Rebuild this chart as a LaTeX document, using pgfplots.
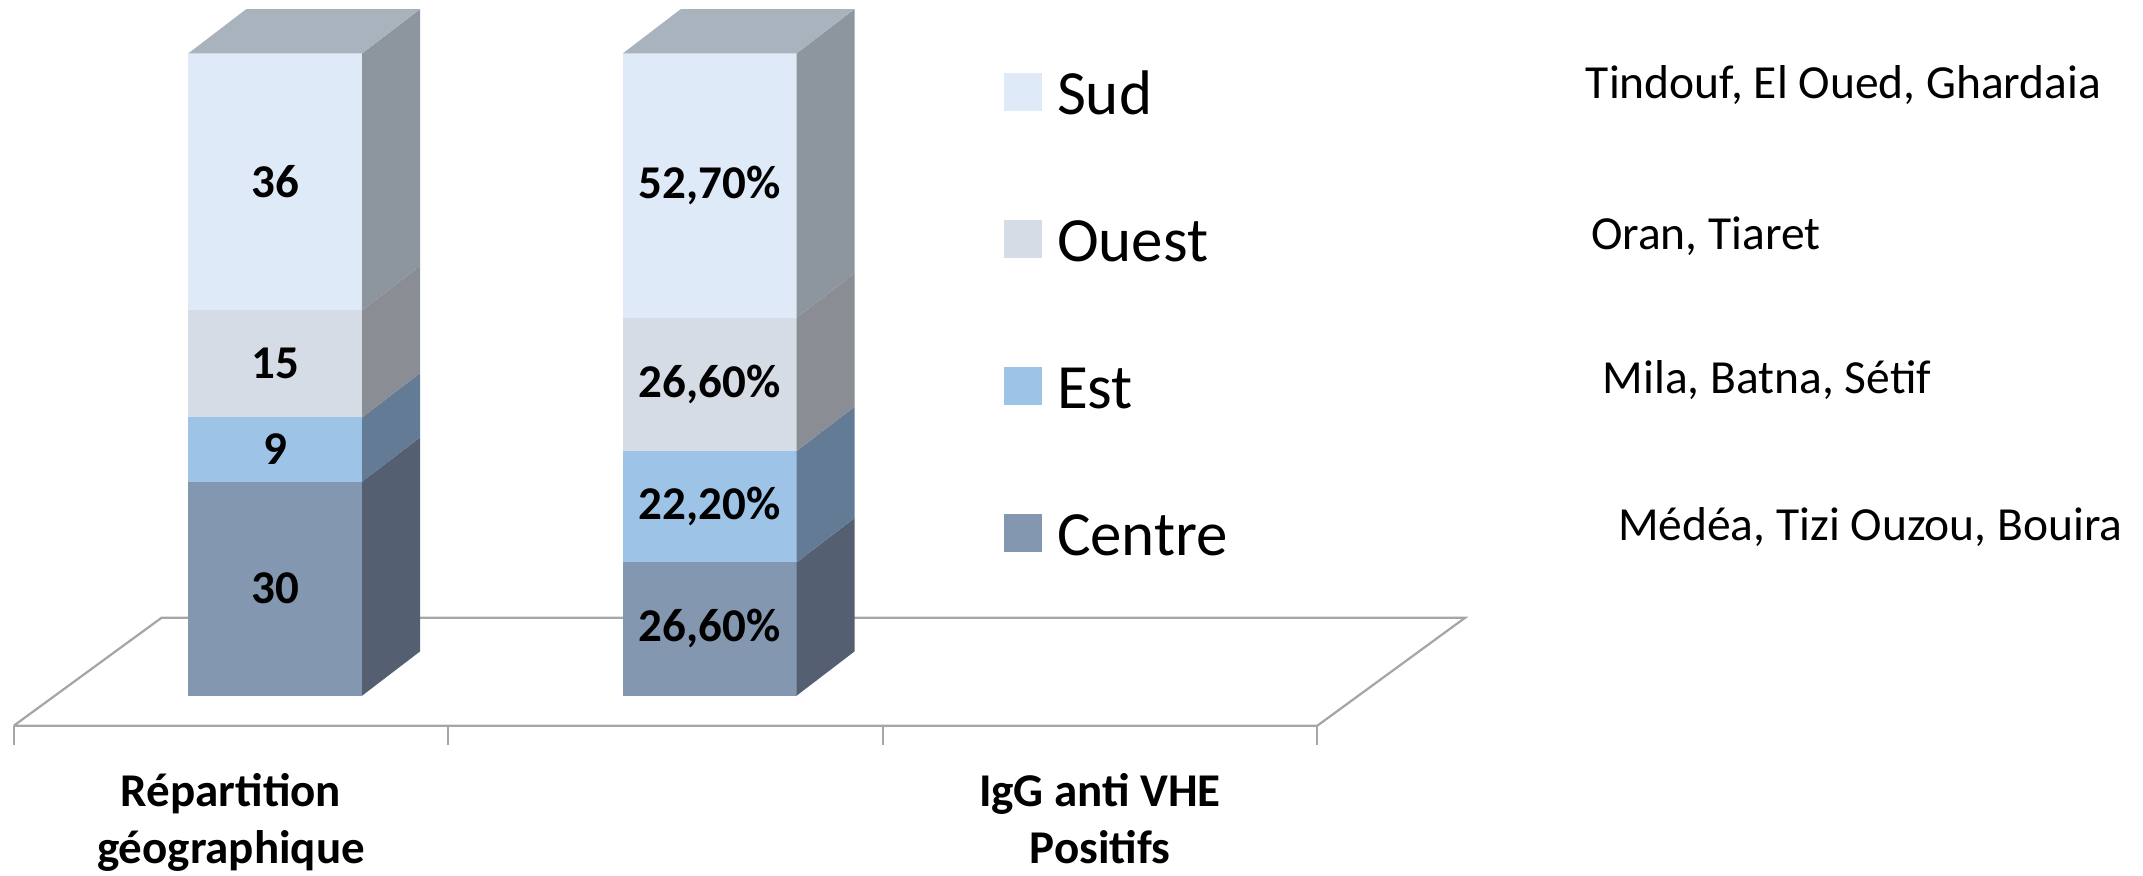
\documentclass[border=0pt]{standalone}
\usepackage{pgfplots}
\pgfplotsset{compat=1.18}
\usepackage{fontspec}
\setmainfont{Carlito}

\definecolor{sudF}{HTML}{DEEAF7}
\definecolor{sudS}{HTML}{8D959E}
\definecolor{ouestF}{HTML}{D5DCE5}
\definecolor{ouestS}{HTML}{8A8E94}
\definecolor{estF}{HTML}{9DC3E6}
\definecolor{estS}{HTML}{647B95}
\definecolor{centreF}{HTML}{8497B0}
\definecolor{centreS}{HTML}{546072}
\definecolor{topF}{HTML}{A9B3BD}
\definecolor{floorC}{HTML}{A6A6A6}

\tikzset{dlabel/.style={font=\fontsize{9.4}{11}\selectfont\bfseries, inner sep=0pt}}

% bar geometry (axis units)
\def\hw{0.2}
\def\dX{0.1335}
\def\dY{6.9}

% #1 bar centre x, #2 lower value, #3 upper value, #4 front colour, #5 side colour, #6 label
\newcommand\seg[6]{%
  \pgfmathsetmacro\sXa{#1-\hw}%
  \pgfmathsetmacro\sXb{#1+\hw}%
  \pgfmathsetmacro\sXc{#1+\hw+\dX}%
  \pgfmathsetmacro\sYa{#2+\dY}%
  \pgfmathsetmacro\sYb{#3+\dY}%
  \pgfmathsetmacro\sYm{(#2+#3)/2}%
  \edef\sTemp{%
    \noexpand\addplot[fill=#4,draw=none,forget plot] coordinates {(\sXa,#2) (\sXb,#2) (\sXb,#3) (\sXa,#3)};
    \noexpand\addplot[fill=#5,draw=none,forget plot] coordinates {(\sXb,#2) (\sXc,\sYa) (\sXc,\sYb) (\sXb,#3)};
    \noexpand\node[dlabel] at (axis cs:#1,\sYm) {#6};
  }\sTemp
}
% top face of a bar: #1 centre x, #2 top value
\newcommand\topface[2]{%
  \pgfmathsetmacro\sXa{#1-\hw}%
  \pgfmathsetmacro\sXb{#1+\hw}%
  \pgfmathsetmacro\sXc{#1+\hw+\dX}%
  \pgfmathsetmacro\sXd{#1-\hw+\dX}%
  \pgfmathsetmacro\sYa{#2+\dY}%
  \edef\sTemp{%
    \noexpand\addplot[fill=topF,draw=none,forget plot] coordinates {(\sXa,#2) (\sXb,#2) (\sXc,\sYa) (\sXd,\sYa)};
  }\sTemp
}

\begin{document}
\begin{tikzpicture}
\begin{axis}[
  scale only axis,
  width=428.6pt, height=175pt,
  xmin=-0.5316, xmax=4.4005, ymin=-27.93, ymax=108.30,
  axis line style={draw=none},
  xtick=\empty, ytick=\empty,
  clip=false,
  legend cell align=left,
  legend style={at={(axis cs:1.7768,97.48)}, anchor=north west,
    draw=none, fill=none, inner sep=0pt, row sep=20.7pt,
    font=\fontsize{12.6}{14}\selectfont,
    nodes={inner sep=0pt, text height=8.7pt, text depth=0pt},
    /tikz/every odd column/.append style={column sep=3.0pt}},
]
% legend
\addlegendimage{legend image code/.code={\fill[sudF] (0pt,-3.6pt) rectangle (7.2pt,3.6pt);}}
\addlegendentry{Sud}
\addlegendimage{legend image code/.code={\fill[ouestF] (0pt,-3.6pt) rectangle (7.2pt,3.6pt);}}
\addlegendentry{Ouest}
\addlegendimage{legend image code/.code={\fill[estF] (0pt,-3.6pt) rectangle (7.2pt,3.6pt);}}
\addlegendentry{Est}
\addlegendimage{legend image code/.code={\fill[centreF] (0pt,-3.6pt) rectangle (7.2pt,3.6pt);}}
\addlegendentry{Centre}

% floor
\addplot[draw=floorC, line width=0.45pt, forget plot] coordinates
  {(-0.5,-4.69) (2.5,-4.69) (2.84,12.11) (-0.16,12.11) (-0.5,-4.69)};
\pgfplotsinvokeforeach{-0.5,0.5,1.5,2.5}{
  \addplot[draw=floorC, line width=0.45pt, forget plot] coordinates {(#1,-4.69) (#1,-7.69)};
}

% bar 1: Répartition géographique (30, 9, 15, 36 -> share of 90)
\seg{0.102}{0}{33.333}{centreF}{centreS}{30}
\seg{0.102}{33.333}{43.333}{estF}{estS}{9}
\seg{0.102}{43.333}{60.0}{ouestF}{ouestS}{15}
\seg{0.102}{60.0}{100}{sudF}{sudS}{36}
\topface{0.102}{100}

% bar 2: IgG anti VHE positifs (26,6 / 22,2 / 26,6 / 52,7 -> share of 128,1)
\seg{1.102}{0}{20.765}{centreF}{centreS}{26,60\%}
\seg{1.102}{20.765}{38.095}{estF}{estS}{22,20\%}
\seg{1.102}{38.095}{58.860}{ouestF}{ouestS}{26,60\%}
\seg{1.102}{58.860}{100}{sudF}{sudS}{52,70\%}
\topface{1.102}{100}

% category labels
\node[anchor=base, font=\fontsize{9.4}{11}\selectfont\bfseries, inner sep=0pt] at (axis cs:0,-17.34) {Répartition};
\node[anchor=base, font=\fontsize{9.4}{11}\selectfont\bfseries, inner sep=0pt] at (axis cs:0,-26.06) {géographique};
\node[anchor=base, font=\fontsize{9.4}{11}\selectfont\bfseries, inner sep=0pt] at (axis cs:2,-17.34) {IgG anti VHE};
\node[anchor=base, font=\fontsize{9.4}{11}\selectfont\bfseries, inner sep=0pt] at (axis cs:2,-26.06) {Positifs};

% region notes
\node[anchor=west, font=\fontsize{9.5}{11}\selectfont, inner sep=0pt] at (axis cs:3.116,95.0) {Tindouf, El Oued, Ghardaia};
\node[anchor=west, font=\fontsize{9.5}{11}\selectfont, inner sep=0pt] at (axis cs:3.128,71.5) {Oran, Tiaret};
\node[anchor=west, font=\fontsize{9.5}{11}\selectfont, inner sep=0pt] at (axis cs:3.155,49.2) {Mila, Batna, Sétif};
\node[anchor=west, font=\fontsize{9.5}{11}\selectfont, inner sep=0pt] at (axis cs:3.190,26.2) {Médéa, Tizi Ouzou, Bouira};
\end{axis}
\end{tikzpicture}
\end{document}
